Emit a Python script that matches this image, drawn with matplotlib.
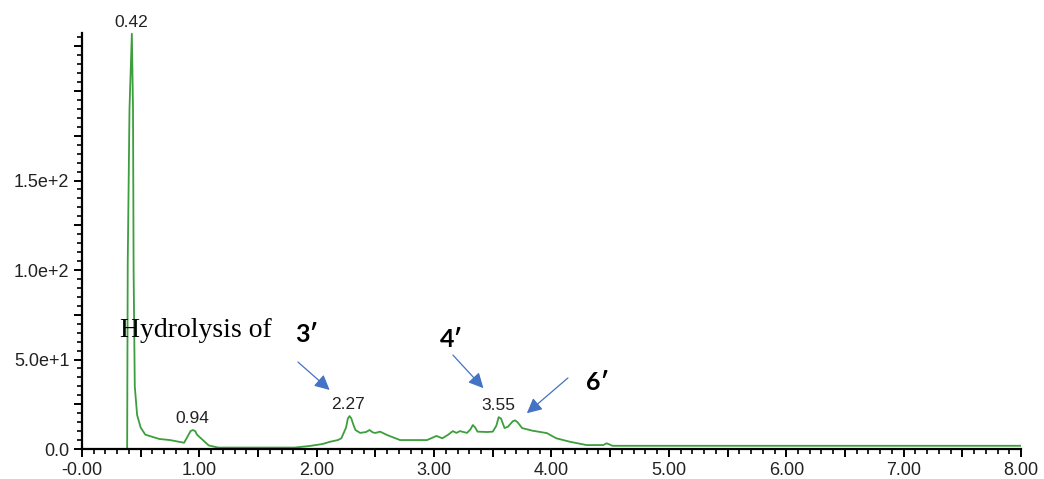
import numpy as np
import matplotlib
matplotlib.use("Agg")
import matplotlib.pyplot as plt
from matplotlib.ticker import MultipleLocator, FuncFormatter

# chromatogram trace (time in min, intensity)
time = [0.00, 0.37, 0.385, 0.39, 0.405, 0.425, 0.435, 0.44, 0.45, 0.47, 0.50,
        0.54, 0.66, 0.75, 0.83, 0.87, 0.90, 0.925, 0.945, 0.965, 0.98, 1.03,
        1.08, 1.16, 1.81, 1.94, 2.05, 2.11, 2.18, 2.21, 2.25, 2.265, 2.28,
        2.295, 2.31, 2.33, 2.37, 2.42, 2.45, 2.48, 2.50, 2.54, 2.60, 2.71,
        2.94, 3.02, 3.07, 3.12, 3.16, 3.19, 3.22, 3.28, 3.31, 3.33, 3.35,
        3.37, 3.45, 3.50, 3.53, 3.55, 3.57, 3.60, 3.63, 3.67, 3.69, 3.71,
        3.75, 3.84, 3.96, 4.04, 4.16, 4.30, 4.44, 4.47, 4.52, 4.60, 8.00]
intensity = [0.0, 0.0, 0.0, 104, 190, 232, 190, 100, 35, 19, 12,
             8, 5.6, 5, 4, 3.5, 7, 10, 10.6, 10, 8, 5,
             2, 0.8, 0.8, 1.7, 2.8, 4, 5, 6, 12, 17, 18.4,
             17, 14, 10.6, 9, 9.5, 10.6, 9.2, 9, 9.7, 7.8, 5,
             5, 7.3, 6, 8, 10, 9, 10, 9, 11, 13.4, 12,
             9.7, 9.5, 9.7, 13, 17.8, 17, 11.7, 12.5, 15.5, 16, 15,
             11.7, 10.2, 8.9, 6, 4, 2.2, 2.2, 3.2, 1.8, 1.8, 1.8]

peak_times = [0.42, 0.94, 2.27, 3.55]
peak_labels = ["0.42", "0.94", "2.27", "3.55"]

ytick_vals = [0, 50, 100, 150]
ytick_labels = ["0.0", "5.0e+1", "1.0e+2", "1.5e+2"]

fig = plt.figure(figsize=(10.44, 4.79), dpi=100)
ax = fig.add_axes([0.0785, 0.0626, 0.8995, 0.8685])

ax.plot(time, intensity, color="#3c9e3c", lw=1.3)

ax.set_xlim(0, 8)
ax.set_ylim(0, 232.4)

for s in ["top", "right"]:
    ax.spines[s].set_visible(False)
for s in ["left", "bottom"]:
    ax.spines[s].set_linewidth(1.6)
    ax.spines[s].set_color("black")

ax.xaxis.set_major_locator(MultipleLocator(0.5))
ax.xaxis.set_minor_locator(MultipleLocator(0.1))
ax.yaxis.set_major_locator(MultipleLocator(25))
ax.yaxis.set_minor_locator(MultipleLocator(5))

def xfmt(v, pos):
    if abs(v - round(v)) > 1e-6:
        return ""
    if abs(v) < 1e-9:
        return "-0.00"
    return "%.2f" % v

def yfmt(v, pos):
    for tv, tl in zip(ytick_vals, ytick_labels):
        if abs(v - tv) < 1e-6:
            return tl
    return ""

ax.xaxis.set_major_formatter(FuncFormatter(xfmt))
ax.yaxis.set_major_formatter(FuncFormatter(yfmt))
ax.tick_params(which="major", length=6, width=1.4, labelsize=13,
               labelcolor="#222222", pad=3)
ax.tick_params(which="minor", length=3.5, width=1.2)
for lab in ax.get_xticklabels() + ax.get_yticklabels():
    lab.set_family("Liberation Sans")

# peak retention time labels
for pt, pl in zip(peak_times, peak_labels):
    h = max(np.interp(np.linspace(pt - 0.02, pt + 0.02, 9), time, intensity))
    ax.annotate(pl, (pt, h), xytext=(0, 3), textcoords="offset points",
                ha="center", va="bottom", fontsize=12.5,
                family="Liberation Sans", color="#222222", annotation_clip=False)

blue = "#4472C4"
ax.text(0.32, 66, "Hydrolysis of", family="Liberation Serif", fontsize=20,
        va="center", ha="left", color="black")
ax.text(1.91, 64, "3\u2032", family=["Lato", "DejaVu Sans"], fontweight="bold",
        fontsize=18, ha="center", va="center")
ax.text(3.15, 61, "4\u2032", family=["Lato", "DejaVu Sans"], fontweight="bold",
        fontsize=18, ha="center", va="center")
ax.text(4.39, 37, "6\u2032", family=["Lato", "DejaVu Sans"], fontweight="bold",
        fontsize=18, ha="center", va="center")

arrow_props = dict(arrowstyle="-|>,head_length=0.9,head_width=0.45",
                   color=blue, lw=0.9, shrinkA=0, shrinkB=0)
ax.annotate("", xy=(2.11, 33), xytext=(1.84, 48.6), arrowprops=arrow_props)
ax.annotate("", xy=(3.42, 34), xytext=(3.16, 52.5), arrowprops=arrow_props)
ax.annotate("", xy=(3.79, 20), xytext=(4.14, 39.7), arrowprops=arrow_props)

fig.savefig("out.png", dpi=100)
